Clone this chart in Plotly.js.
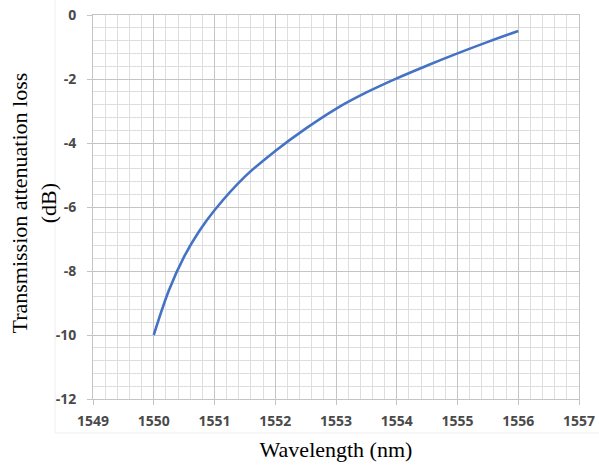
<!DOCTYPE html>
<html>
<head>
<meta charset="utf-8">
<script src="https://cdn.plot.ly/plotly-3.0.1.min.js"></script>
<style>html,body{margin:0;padding:0;background:#fff;}#chart{width:599px;height:468px;}</style>
</head>
<body>
<div id="chart"></div>
<script>
const wavelength = [1550, 1550.25, 1550.5, 1550.75, 1551, 1551.5, 1552, 1552.5, 1553, 1553.5, 1554, 1554.5, 1555, 1555.5, 1556];
const lossDb = [-10, -8.6, -7.55, -6.75, -6.1, -5.05, -4.25, -3.55, -2.93, -2.42, -1.98, -1.58, -1.2, -0.84, -0.5];
const xTicks = [1549, 1550, 1551, 1552, 1553, 1554, 1555, 1556, 1557];
const yTicks = [-12, -10, -8, -6, -4, -2, 0];
const xTitle = 'Wavelength (nm)';
const yTitle = 'Transmission attenuation loss<br>(dB)';

const trace = {
  x: wavelength, y: lossDb, type: 'scatter', mode: 'lines',
  line: {color: '#4472c4', width: 2.6, shape: 'spline', smoothing: 1.0},
  hoverinfo: 'skip'
};
const tickFont = {family: 'Open Sans, sans-serif', size: 14, color: '#4a4a4a', weight: 'bold'};
const titleFont = {family: 'Liberation Serif, Times New Roman, serif', size: 22, color: '#000'};
const layout = {
  width: 599, height: 468,
  margin: {l: 93, r: 20, t: 15, b: 69},
  paper_bgcolor: '#fff', plot_bgcolor: '#fff',
  showlegend: false,
  xaxis: {
    range: [1549, 1557], tickvals: xTicks, ticktext: xTicks.map(String),
    showgrid: true, gridcolor: '#c4c4c4', gridwidth: 1,
    minor: {dtick: 0.2, showgrid: true, gridcolor: '#dedede', gridwidth: 1},
    ticks: 'outside', ticklen: 5, tickcolor: '#c4c4c4',
    showline: true, linecolor: '#c4c4c4', mirror: true, zeroline: false,
    tickfont: tickFont, ticklabelstandoff: 4,
    title: {text: xTitle, font: titleFont, standoff: 12}
  },
  yaxis: {
    range: [-12, 0], tickvals: yTicks, ticktext: yTicks.map(String),
    showgrid: true, gridcolor: '#c4c4c4', gridwidth: 1,
    minor: {dtick: 0.4, showgrid: true, gridcolor: '#dedede', gridwidth: 1},
    ticks: 'outside', ticklen: 5, tickcolor: '#c4c4c4',
    showline: true, linecolor: '#c4c4c4', mirror: true, zeroline: false,
    tickfont: tickFont, ticklabelstandoff: 8
  },
  annotations: [
    {text: yTitle, xref: 'paper', yref: 'paper', x: -0.1214, y: 0.5117,
     xanchor: 'center', yanchor: 'middle', textangle: -90, showarrow: false,
     font: titleFont, align: 'center'}
  ],
  shapes: [
    {type: 'line', xref: 'paper', yref: 'paper', x0: -0.078, x1: -0.078, y0: -0.0885, y1: 1.1, line: {color: '#efefef', width: 1}, layer: 'below'},
    {type: 'line', xref: 'paper', yref: 'paper', x0: -0.078, x1: 1.1, y0: -0.0885, y1: -0.0885, line: {color: '#efefef', width: 1}, layer: 'below'}
  ]
};
Plotly.newPlot('chart', [trace], layout, {staticPlot: true, displayModeBar: false});
</script>
</body>
</html>
